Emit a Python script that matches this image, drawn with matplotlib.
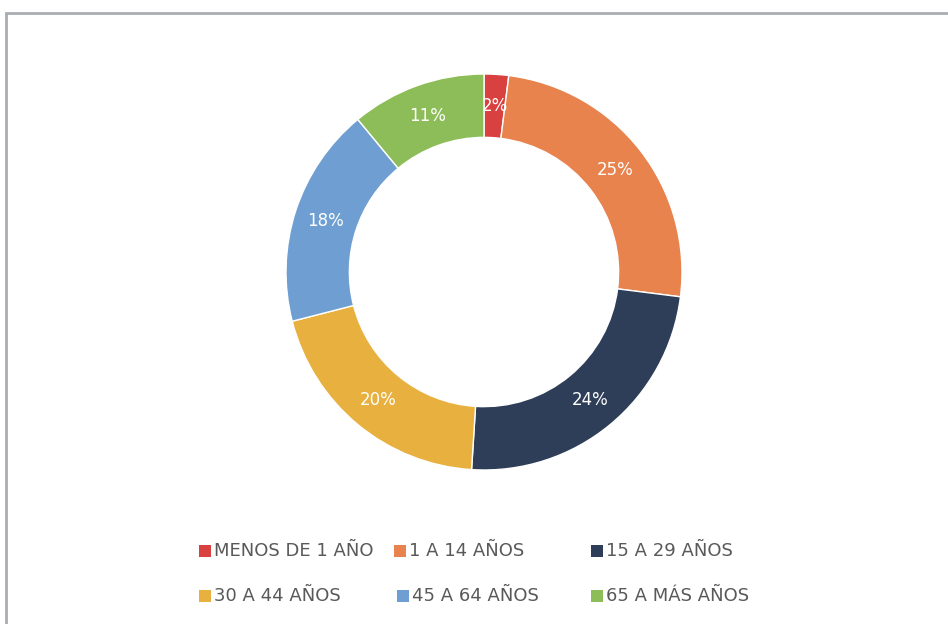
import matplotlib.pyplot as plt
from matplotlib.patches import Rectangle

grupos = ['MENOS DE 1 AÑO', '1 A 14 AÑOS', '15 A 29 AÑOS',
          '30 A 44 AÑOS', '45 A 64 AÑOS', '65 A MÁS AÑOS']
porcentajes = [2, 25, 24, 20, 18, 11]
colores = ['#d8413f', '#e8834e', '#2f3e58', '#e8b03e', '#6f9fd2', '#8dbd58']

# posiciones de la leyenda (centro del cuadrito, pixeles desde arriba-izquierda)
pos_leyenda = [(205, 551), (400, 551), (597, 551),
               (205, 596), (403, 596), (597, 596)]

W, H = 948, 624
fig = plt.figure(figsize=(W / 100, H / 100), dpi=100)
fig.patch.set_facecolor('white')

# marco gris del grafico
fig.patches.append(Rectangle((6 / W, -0.1), 1.2, (H - 13) / H + 0.1,
                             transform=fig.transFigure, fill=False,
                             edgecolor='#a9adb2', linewidth=2))

cx, cy, r = 484, 272, 198
ax = fig.add_axes([(cx - r) / W, (H - cy - r) / H, 2 * r / W, 2 * r / H])
wedges, _, autotexts = ax.pie(
    porcentajes, colors=colores, startangle=90, counterclock=False,
    radius=1, autopct='%d%%', pctdistance=0.84,
    wedgeprops=dict(width=0.32, edgecolor='white', linewidth=1),
    textprops=dict(color='white', fontsize=12))
ax.set_xlim(-1, 1)
ax.set_ylim(-1, 1)
ax.set_aspect('equal')
ax.axis('off')

for (x, y), nombre, c in zip(pos_leyenda, grupos, colores):
    fig.patches.append(Rectangle(((x - 6) / W, (H - y - 6) / H), 12 / W, 12 / H,
                                 transform=fig.transFigure, facecolor=c,
                                 edgecolor='none'))
    fig.text((x + 9) / W, (H - y) / H, nombre, fontsize=13, color='#595959',
             va='center', ha='left')

fig.savefig('out.png', dpi=100)
